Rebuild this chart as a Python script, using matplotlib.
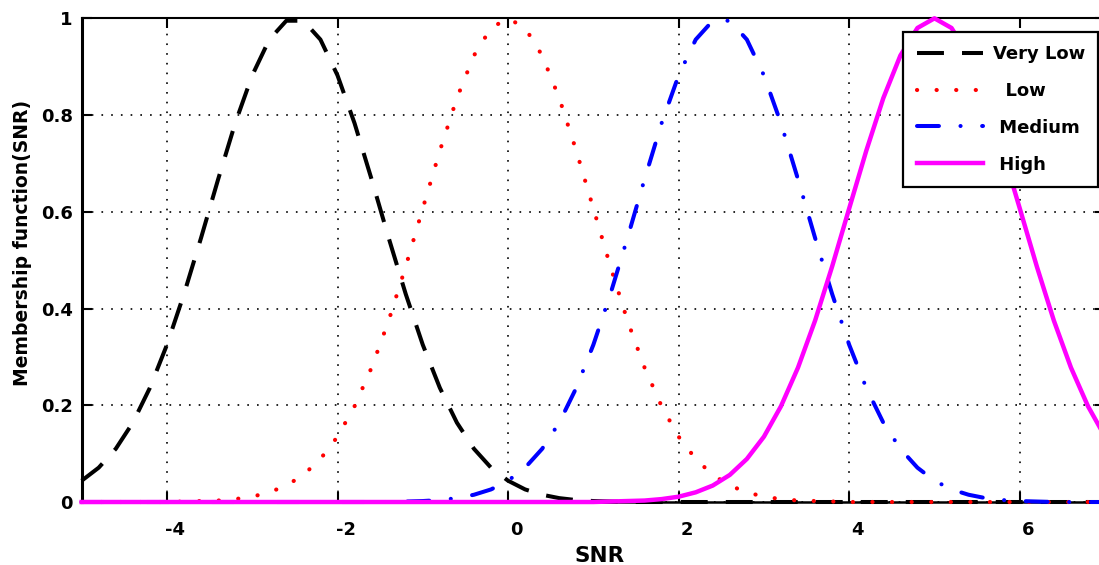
import matplotlib
matplotlib.use("Agg")
import matplotlib.pyplot as plt
import matplotlib.transforms as mtransforms

# ---------------------------------------------------------------------------
# Data (membership values)
# ---------------------------------------------------------------------------
snr = [-5.0, -4.8, -4.6, -4.4, -4.2, -4.0, -3.8, -3.6, -3.4, -3.2,
       -3.0, -2.8, -2.6, -2.4, -2.2, -2.0, -1.8, -1.6, -1.4, -1.2,
       -1.0, -0.8, -0.6, -0.4, -0.2, 0.0, 0.2, 0.4, 0.6, 0.8,
       1.0, 1.2, 1.4, 1.6, 1.8, 2.0, 2.2, 2.4, 2.6, 2.8,
       3.0, 3.2, 3.4, 3.6, 3.8, 4.0, 4.2, 4.4, 4.6, 4.8,
       5.0, 5.2, 5.4, 5.6, 5.8, 6.0, 6.2, 6.4, 6.6, 6.8, 7.0]

very_low = [0.044, 0.071, 0.110, 0.164, 0.236, 0.325, 0.430, 0.546, 0.667, 0.783,
            0.882, 0.956, 0.995, 0.995, 0.956, 0.882, 0.783, 0.667, 0.546, 0.430,
            0.325, 0.236, 0.164, 0.110, 0.071, 0.044, 0.026, 0.015, 0.008, 0.004,
            0.002, 0.001, 0.0, 0.0, 0.0, 0.0, 0.0, 0.0, 0.0, 0.0,
            0.0, 0.0, 0.0, 0.0, 0.0, 0.0, 0.0, 0.0, 0.0, 0.0,
            0.0, 0.0, 0.0, 0.0, 0.0, 0.0, 0.0, 0.0, 0.0, 0.0, 0.0]

low = [0.0, 0.0, 0.0, 0.0, 0.0, 0.0, 0.001, 0.002, 0.003, 0.006,
       0.011, 0.020, 0.034, 0.056, 0.089, 0.135, 0.198, 0.278, 0.375, 0.487,
       0.607, 0.726, 0.835, 0.923, 0.980, 1.000, 0.980, 0.923, 0.835, 0.726,
       0.607, 0.487, 0.375, 0.278, 0.198, 0.135, 0.089, 0.056, 0.034, 0.020,
       0.011, 0.006, 0.003, 0.002, 0.001, 0.0, 0.0, 0.0, 0.0, 0.0,
       0.0, 0.0, 0.0, 0.0, 0.0, 0.0, 0.0, 0.0, 0.0, 0.0, 0.0]

medium = [0.0, 0.0, 0.0, 0.0, 0.0, 0.0, 0.0, 0.0, 0.0, 0.0,
          0.0, 0.0, 0.0, 0.0, 0.0, 0.0, 0.0, 0.0, 0.0, 0.001,
          0.002, 0.004, 0.008, 0.015, 0.026, 0.044, 0.071, 0.110, 0.164, 0.236,
          0.325, 0.430, 0.546, 0.667, 0.783, 0.882, 0.956, 0.995, 0.995, 0.956,
          0.882, 0.783, 0.667, 0.546, 0.430, 0.325, 0.236, 0.164, 0.110, 0.071,
          0.044, 0.026, 0.015, 0.008, 0.004, 0.002, 0.001, 0.0, 0.0, 0.0, 0.0]

high = [0.0, 0.0, 0.0, 0.0, 0.0, 0.0, 0.0, 0.0, 0.0, 0.0,
        0.0, 0.0, 0.0, 0.0, 0.0, 0.0, 0.0, 0.0, 0.0, 0.0,
        0.0, 0.0, 0.0, 0.0, 0.0, 0.0, 0.0, 0.0, 0.0, 0.0,
        0.0, 0.001, 0.002, 0.003, 0.006, 0.011, 0.020, 0.034, 0.056, 0.089,
        0.135, 0.198, 0.278, 0.375, 0.487, 0.607, 0.726, 0.835, 0.923, 0.980,
        1.000, 0.980, 0.923, 0.835, 0.726, 0.607, 0.487, 0.375, 0.278, 0.198, 0.135]

labels = ["Very Low", "  Low", " Medium", " High"]
x_ticks = [-4, -2, 0, 2, 4, 6]
y_ticks = [0, 0.2, 0.4, 0.6, 0.8, 1]

# ---------------------------------------------------------------------------
# Figure
# ---------------------------------------------------------------------------
plt.rcParams["font.family"] = "DejaVu Sans"
plt.rcParams["font.weight"] = "bold"
plt.rcParams["lines.scale_dashes"] = False
plt.rcParams["axes.unicode_minus"] = False

fig = plt.figure(figsize=(10.99, 5.65), dpi=100)
ax = fig.add_axes([0.0743, 0.1115, 0.9312, 0.8561])

ax.plot(snr, very_low, color="black", lw=2.9, dashes=(19.4, 13.0),
        dash_capstyle="butt", clip_on=False, zorder=3, label=labels[0])
ax.plot(snr, low, color="red", lw=3.0, dashes=(0.1, 14.0),
        dash_capstyle="round", clip_on=False, zorder=3, label=labels[1])
ax.plot(snr, medium, color="blue", lw=2.9, dashes=(15.8, 15.5, 0.1, 15.5),
        dash_capstyle="round", clip_on=False, zorder=3, label=labels[2])
ax.plot(snr, high, color="magenta", lw=3.2, clip_on=False, zorder=3,
        label=labels[3])

ax.set_xlim(-5, 7)
ax.set_ylim(0, 1)
ax.set_xticks(x_ticks)
ax.set_yticks(y_ticks)
ax.set_yticklabels([f"{v:g}" for v in y_ticks])

ax.grid(True, color="black", lw=1.2, linestyle=(0, (1.2, 5.8)))
ax.tick_params(axis="x", direction="in", length=7, width=1.5, top=True,
               labelsize=13, pad=14)
ax.tick_params(axis="y", direction="in", length=7, width=1.5, right=True,
               labelsize=13, pad=6.5)

for lab in ax.get_xticklabels():
    lab.set_fontweight("bold")
    lab.set_transform(lab.get_transform() +
                      mtransforms.ScaledTranslation(0.08, 0, fig.dpi_scale_trans))
for lab in ax.get_yticklabels():
    lab.set_fontweight("bold")

ax.spines["left"].set_linewidth(2.2)
ax.spines["bottom"].set_linewidth(1.8)
ax.spines["top"].set_linewidth(1.5)
ax.spines["right"].set_linewidth(1.5)

ax.set_xlabel("SNR", fontsize=15.5, fontweight="bold")
ax.xaxis.set_label_coords(0.5065, -0.091)
ax.set_ylabel("Membership function(SNR)", fontsize=13.5, fontweight="bold")
ax.yaxis.set_label_coords(-0.0486, 0.535)

leg = ax.legend(loc="upper right", bbox_to_anchor=(1098.3 / 1099, 1 - 31.7 / 565),
                bbox_transform=fig.transFigure, borderaxespad=0,
                fancybox=False, framealpha=1, edgecolor="black",
                prop={"size": 13, "weight": "bold"},
                handlelength=3.7, handletextpad=0.5, borderpad=0.75,
                labelspacing=1.04)
leg.get_frame().set_linewidth(1.6)
leg.set_zorder(5)

fig.savefig("out.png", dpi=100, facecolor="white")
